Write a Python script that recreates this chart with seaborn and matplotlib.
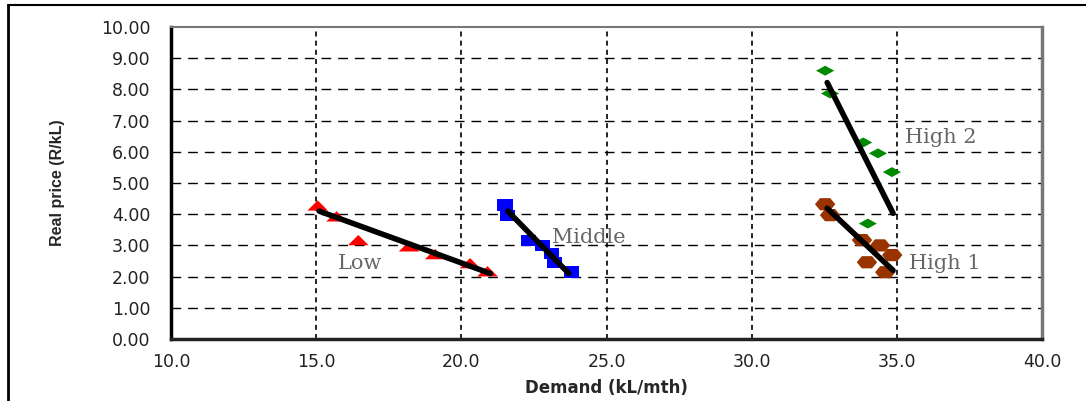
import numpy as np
import pandas as pd
import matplotlib
matplotlib.use("Agg")
import matplotlib.pyplot as plt
import seaborn as sns
from matplotlib.lines import Line2D
from matplotlib.ticker import FormatStrFormatter, MultipleLocator

# dades llegides del gràfic
low_x = [15.05, 15.7, 16.45, 18.2, 19.1, 20.3, 20.9]
low_y = [4.28, 3.93, 3.17, 2.97, 2.72, 2.43, 2.17]
mid_x = [21.5, 21.6, 22.3, 22.8, 23.1, 23.2, 23.8]
mid_y = [4.3, 3.95, 3.15, 3.0, 2.75, 2.45, 2.15]
high2_x = [32.53, 32.7, 33.84, 34.35, 34.83, 34.0]
high2_y = [8.6, 7.87, 6.3, 5.95, 5.35, 3.7]
high1_x = [32.53, 32.7, 33.8, 34.42, 34.84, 33.97, 34.6]
high1_y = [4.32, 3.97, 3.17, 3.0, 2.69, 2.46, 2.14]

# extrems de les rectes de tendència
fit_low_x, fit_low_y = [15.1, 21.0], [4.1, 2.1]
fit_mid_x, fit_mid_y = [21.6, 23.7], [4.1, 2.1]
fit_high2_x, fit_high2_y = [32.6, 34.87], [8.22, 4.03]
fit_high1_x, fit_high1_y = [32.6, 34.87], [4.19, 2.2]

etiquetes = ["Low", "Middle", "High 2", "High 1"]
etiq_x = [15.75, 23.12, 35.28, 35.42]
etiq_y = [2.43, 3.26, 6.46, 2.43]

sns.set_style("white")
plt.rcParams['font.family'] = ['DejaVu Sans']

fig = plt.figure(figsize=(10.86, 4.01), dpi=100)
ax = fig.add_axes([0.1575, 0.1546, 0.802, 0.778])

# marcadors aixafats (la imatge original està estirada en horitzontal)
triangle = [(-1, -0.5), (0, 0.5), (1, -0.5), (-1, -0.5)]
quadrat = [(-1, -0.75), (1, -0.75), (1, 0.75), (-1, 0.75), (-1, -0.75)]
diamant = [(-1, 0), (0, 0.55), (1, 0), (0, -0.55), (-1, 0)]
hexagon = [(1, 0), (0.5, 0.6), (-0.5, 0.6), (-1, 0), (-0.5, -0.6),
           (0.5, -0.6), (1, 0)]

sns.scatterplot(x=low_x, y=low_y, marker=triangle, color="#ff0000", s=220,
                edgecolor="none", ax=ax, zorder=3)
sns.scatterplot(x=mid_x, y=mid_y, marker=quadrat, color="#0000ff", s=120,
                edgecolor="none", ax=ax, zorder=3)
sns.scatterplot(x=high2_x, y=high2_y, marker=diamant, color="#008a00", s=170,
                edgecolor="none", ax=ax, zorder=3)
sns.scatterplot(x=high1_x, y=high1_y, marker=hexagon, color="#993300", s=215,
                edgecolor="none", ax=ax, zorder=3)

for fx, fy in [(fit_low_x, fit_low_y), (fit_mid_x, fit_mid_y),
               (fit_high2_x, fit_high2_y), (fit_high1_x, fit_high1_y)]:
    sns.lineplot(x=fx, y=fy, color="black", linewidth=4, ax=ax, zorder=4)

for t, x, y in zip(etiquetes, etiq_x, etiq_y):
    ax.text(x, y, t, fontsize=15, color="#666666", family="DejaVu Serif",
            ha="left", va="center", zorder=5)

ax.set_xlim(10, 40)
ax.set_ylim(0, 10)
ax.xaxis.set_major_locator(MultipleLocator(5))
ax.yaxis.set_major_locator(MultipleLocator(1))
ax.xaxis.set_major_formatter(FormatStrFormatter("%.1f"))
ax.yaxis.set_major_formatter(FormatStrFormatter("%.2f"))

# graella
for yv in range(1, 10):
    ax.axhline(yv, color="black", lw=1, dashes=(7, 5), zorder=1)
for xv in range(15, 40, 5):
    ax.axvline(xv, color="black", lw=1.2, dashes=(3, 2.5), zorder=1)

ax.spines["left"].set_linewidth(2.5)
ax.spines["left"].set_color("black")
ax.spines["bottom"].set_linewidth(2.5)
ax.spines["bottom"].set_color("#222222")
ax.spines["top"].set_linewidth(1.5)
ax.spines["top"].set_color("#777777")
ax.spines["right"].set_linewidth(2.5)
ax.spines["right"].set_color("#777777")

ax.tick_params(axis="both", direction="inout", length=10, width=1.2,
               color="black", labelsize=12.5, labelcolor="#222222")
ax.tick_params(axis="y", pad=10)
ax.tick_params(axis="x", pad=5)

ax.set_xlabel("Demand (kL/mth)", fontsize=12, fontweight="bold", labelpad=6)
ax.set_ylabel("Real price (R/kL)", fontsize=11.5, fontweight="bold",
              family="Liberation Sans", labelpad=26)

# marc exterior
fig.add_artist(Line2D([8 / 1086, 8 / 1086], [0, 1 - 5 / 401],
                      transform=fig.transFigure, color="black", lw=2))
fig.add_artist(Line2D([8 / 1086, 1], [1 - 5 / 401, 1 - 5 / 401],
                      transform=fig.transFigure, color="black", lw=1.5))

fig.savefig("out.png", dpi=100)
